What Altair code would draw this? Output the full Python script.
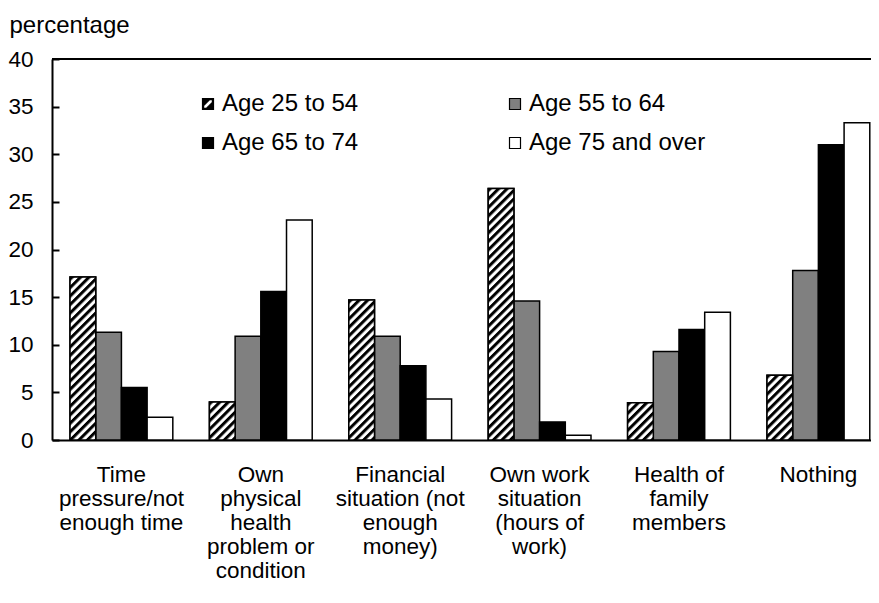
import base64
import altair as alt
import pandas as pd

# ---------------- data ----------------
categories = [
    "Time|pressure/not|enough time",
    "Own|physical|health|problem or|condition",
    "Financial|situation (not|enough|money)",
    "Own work|situation|(hours of|work)",
    "Health of|family|members",
    "Nothing",
]
age_groups = ["Age 25 to 54", "Age 55 to 64", "Age 65 to 74", "Age 75 and over"]
age_25_54 = [17.1, 4.0, 14.7, 26.4, 3.9, 6.8]
age_55_64 = [11.3, 10.9, 10.9, 14.6, 9.3, 17.8]
age_65_74 = [5.5, 15.6, 7.8, 1.9, 11.6, 31.0]
age_75_over = [2.4, 23.1, 4.3, 0.5, 13.4, 33.3]
y_ticks = [0, 5, 10, 15, 20, 25, 30, 35, 40]
y_max = [40]

rows = []
for name, vals in zip(age_groups, [age_25_54, age_55_64, age_65_74, age_75_over]):
    for c, v in zip(categories, vals):
        rows.append({"category": c, "age": name, "value": v})
df = pd.DataFrame(rows)
top_df = pd.DataFrame({"value": y_max})

# ---------------- styling ----------------
FONT = "Liberation Sans"
W, H = 819, 381
FS = 22.5

hatch_svg = (
    '<svg xmlns="http://www.w3.org/2000/svg" width="100%" height="100%">'
    '<defs><pattern id="h" width="6" height="6" patternUnits="userSpaceOnUse" '
    'patternTransform="rotate(45)"><rect width="6" height="6" fill="white"/>'
    '<rect width="3" height="6" fill="black"/></pattern></defs>'
    '<rect width="100%" height="100%" fill="url(#h)"/></svg>'
)
hatch_url = "data:image/svg+xml;base64," + base64.b64encode(hatch_svg.encode()).decode()

square_path = "M-1,-1H1V1H-1Z"
hatch_sym = (
    "M-1,-1H1V1H-1Z"
    "M-0.8,-0.8V0.8H0.8V-0.8Z"
    "M-0.8,-0.8H0.3L-0.8,0.3Z"
    "M0.8,0.8H-0.3L0.8,-0.3Z"
)

x_scale = alt.Scale(paddingInner=0.2626, paddingOuter=0.069, align=0.937)
x_axis = alt.Axis(
    title=None, ticks=False, domain=True, domainColor="black", domainWidth=2,
    labelAngle=0, labelFont=FONT, labelFontSize=FS, labelColor="black",
    labelLineHeight=24, labelPadding=23, labelLimit=400, labelOverlap=False,
    labelExpr="split(datum.label, '|')", grid=False,
)
x_enc = alt.X("category:N", sort=categories, scale=x_scale, axis=x_axis)
xoff = alt.XOffset("age:N", sort=age_groups,
                   scale=alt.Scale(domain=age_groups, paddingInner=0, paddingOuter=0))
y_scale = alt.Scale(domain=[0, 40], nice=False)

# ticks point into the plot (negative tick length given as an expression)
y_axis = alt.Axis(
    values=y_ticks, ticks=True, tickSize=alt.ExprRef(expr="-7"), tickWidth=2,
    tickColor="black", domain=True, domainColor="black",
    domainWidth=2, labelFont=FONT, labelFontSize=FS, labelColor="black",
    labelPadding=26, grid=False, title="percentage", titleAngle=0,
    titleAlign="left", titleBaseline="alphabetic", titleX=-43, titleY=-27,
    titleFont=FONT, titleFontSize=24, titleFontWeight="normal", titleColor="black",
)
y_enc = alt.Y("value:Q", stack=None, scale=y_scale, axis=y_axis)

color_scale = alt.Scale(domain=age_groups, range=["black", "#808080", "black", "white"])
shape_scale = alt.Scale(domain=age_groups, range=[hatch_sym, square_path, square_path, square_path])
legend = alt.Legend(
    title=None, orient="none", direction="horizontal", legendX=144, legendY=33,
    columns=2, columnPadding=144, rowPadding=15, symbolSize=121,
    symbolStrokeColor="black", symbolStrokeWidth=1.2, labelFont=FONT,
    labelFontSize=24, labelColor="black", labelOffset=2, padding=0,
    labelLimit=400,
)

base = alt.Chart(df)

bars = base.mark_bar(stroke="black", strokeWidth=1.5).encode(
    x=x_enc,
    xOffset=xoff,
    y=y_enc,
    color=alt.Color("age:N", scale=color_scale, legend=legend),
)

legend_pts = base.transform_filter("false").mark_point(filled=True, opacity=1).encode(
    x=x_enc,
    y=y_enc,
    color=alt.Color("age:N", scale=color_scale, legend=legend),
    shape=alt.Shape("age:N", scale=shape_scale, legend=legend),
)

hatch_img = base.transform_filter(alt.datum.age == age_groups[0]).mark_image(aspect=False).encode(
    x=x_enc,
    xOffset=xoff,
    y=y_enc,
    y2=alt.datum(0),
    url=alt.value(hatch_url),
)

hatch_outline = base.transform_filter(alt.datum.age == age_groups[0]).mark_bar(
    fillOpacity=0, stroke="black", strokeWidth=1.5
).encode(
    x=x_enc,
    xOffset=xoff,
    y=y_enc,
)

top_rule = alt.Chart(top_df).mark_rule(color="black", strokeWidth=2).encode(
    y=y_enc,
    x=alt.value(0),
    x2=alt.value(W + 10),
)

chart = (
    alt.layer(bars, legend_pts, hatch_img, hatch_outline, top_rule)
    .properties(
        width=W, height=H,
        autosize=alt.AutoSizeParams(type="none"),
        padding={"left": 44, "top": 51, "right": 0, "bottom": 150},
    )
    .configure_view(stroke=None)
    .configure(background="white")
)

chart.save("out.html", embed_options={"renderer": "svg", "actions": False})
